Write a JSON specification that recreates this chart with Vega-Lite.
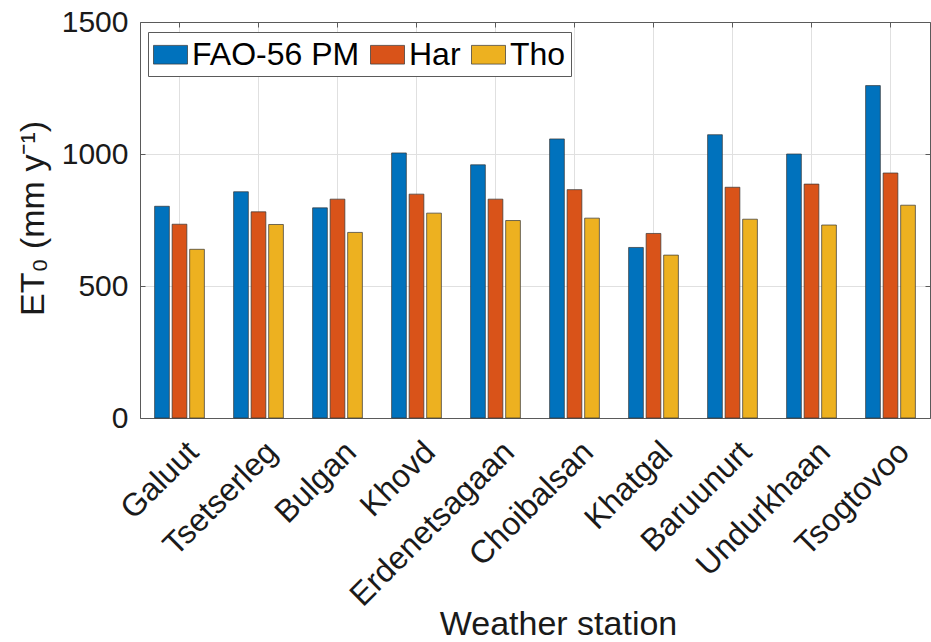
{
  "$schema": "https://vega.github.io/schema/vega-lite/v6.json",
  "width": 790,
  "height": 396,
  "autosize": {"type": "none"},
  "padding": {"left": 140, "top": 22, "right": 1, "bottom": 224},
  "background": "white",
  "view": {"stroke": null},
  "config": {
    "font": "Liberation Sans",
    "axis": {"labelFont": "Liberation Sans", "titleFont": "Liberation Sans", "labelColor": "#1a1a1a", "titleColor": "#1a1a1a", "titleFontWeight": "normal", "domainColor": "#5a5a5a", "tickColor": "#5a5a5a", "gridColor": "#e0e0e0", "gridOpacity": 1}
  },
  "datasets": {
    "et0": [
      {"Station": "Galuut", "Method": "FAO-56 PM", "ET0": 802},
      {"Station": "Galuut", "Method": "Har", "ET0": 734},
      {"Station": "Galuut", "Method": "Tho", "ET0": 639},
      {"Station": "Tsetserleg", "Method": "FAO-56 PM", "ET0": 857},
      {"Station": "Tsetserleg", "Method": "Har", "ET0": 781},
      {"Station": "Tsetserleg", "Method": "Tho", "ET0": 733},
      {"Station": "Bulgan", "Method": "FAO-56 PM", "ET0": 796},
      {"Station": "Bulgan", "Method": "Har", "ET0": 829},
      {"Station": "Bulgan", "Method": "Tho", "ET0": 703},
      {"Station": "Khovd", "Method": "FAO-56 PM", "ET0": 1004},
      {"Station": "Khovd", "Method": "Har", "ET0": 848},
      {"Station": "Khovd", "Method": "Tho", "ET0": 776},
      {"Station": "Erdenetsagaan", "Method": "FAO-56 PM", "ET0": 959},
      {"Station": "Erdenetsagaan", "Method": "Har", "ET0": 829},
      {"Station": "Erdenetsagaan", "Method": "Tho", "ET0": 748},
      {"Station": "Choibalsan", "Method": "FAO-56 PM", "ET0": 1057},
      {"Station": "Choibalsan", "Method": "Har", "ET0": 865},
      {"Station": "Choibalsan", "Method": "Tho", "ET0": 757},
      {"Station": "Khatgal", "Method": "FAO-56 PM", "ET0": 646},
      {"Station": "Khatgal", "Method": "Har", "ET0": 699},
      {"Station": "Khatgal", "Method": "Tho", "ET0": 617},
      {"Station": "Baruunurt", "Method": "FAO-56 PM", "ET0": 1073},
      {"Station": "Baruunurt", "Method": "Har", "ET0": 874},
      {"Station": "Baruunurt", "Method": "Tho", "ET0": 753},
      {"Station": "Undurkhaan", "Method": "FAO-56 PM", "ET0": 1000},
      {"Station": "Undurkhaan", "Method": "Har", "ET0": 886},
      {"Station": "Undurkhaan", "Method": "Tho", "ET0": 731},
      {"Station": "Tsogtovoo", "Method": "FAO-56 PM", "ET0": 1259},
      {"Station": "Tsogtovoo", "Method": "Har", "ET0": 928},
      {"Station": "Tsogtovoo", "Method": "Tho", "ET0": 806}
    ]
  },
  "data": {"name": "et0"},
  "layer": [
    {
      "mark": {"type": "bar", "stroke": "#333333", "strokeWidth": 0.7},
      "encoding": {
        "x": {
          "field": "Station", "type": "nominal", "sort": null,
          "scale": {"paddingInner": 0.37, "paddingOuter": 0.185},
          "axis": {
            "orient": "bottom", "title": "Weather station", "titleFontSize": 34,
            "titleX": 418, "titleY": 216, "titleBaseline": "alphabetic", "titleAlign": "center", "titleAnchor": "middle",
            "labelAngle": -45, "labelAlign": "right", "labelBaseline": "top", "labelFontSize": 32, "labelLimit": 400,
            "labelOffset": 3, "labelPadding": 23, "tickSize": -5, "bandPosition": 0.5, "grid": true, "domainWidth": 1
          }
        },
        "xOffset": {"field": "Method", "type": "nominal", "sort": ["FAO-56 PM", "Har", "Tho"], "scale": {"paddingInner": 0.16, "paddingOuter": 0}},
        "y": {
          "field": "ET0", "type": "quantitative",
          "scale": {"domain": [0, 1500], "nice": false},
          "axis": {
            "orient": "left", "values": [0, 500, 1000, 1500], "format": "d", "title": "ET₀  (mm y⁻¹)", "titleFontSize": 34,
            "titleX": -97, "titleY": 196, "titleAngle": -90, "titleBaseline": "alphabetic", "titleAlign": "center",
            "labelFontSize": 30, "labelPadding": 17, "tickSize": -5, "grid": true
          }
        },
        "color": {
          "field": "Method", "type": "nominal",
          "scale": {"domain": ["FAO-56 PM", "Har", "Tho"], "range": ["#0072BD", "#D95319", "#EDB120"]},
          "legend": {
            "title": null, "orient": "none", "legendX": 8, "legendY": 10, "direction": "horizontal",
            "strokeColor": "#5a5a5a", "fillColor": "white", "padding": 5,
            "symbolType": "M-1,-0.55H1V0.55H-1Z", "symbolSize": 1156, "symbolStrokeColor": "#333333", "symbolStrokeWidth": 0.7, "symbolOpacity": 1,
            "labelFontSize": 32, "labelFont": "Liberation Sans", "labelColor": "#000000", "labelOffset": 4, "columnPadding": 9, "labelLimit": 400
          }
        }
      }
    },
    {
      "mark": {"type": "point", "opacity": 0},
      "encoding": {
        "x": {"field": "Station", "type": "nominal", "sort": null, "axis": {"orient": "top", "labels": false, "title": null, "tickSize": -5, "bandPosition": 0.5, "grid": false}},
        "y": {"field": "ET0", "type": "quantitative", "axis": {"orient": "right", "values": [0, 500, 1000, 1500], "labels": false, "title": null, "tickSize": -5, "grid": false}}
      }
    }
  ],
  "resolve": {"axis": {"x": "independent", "y": "independent"}}
}
